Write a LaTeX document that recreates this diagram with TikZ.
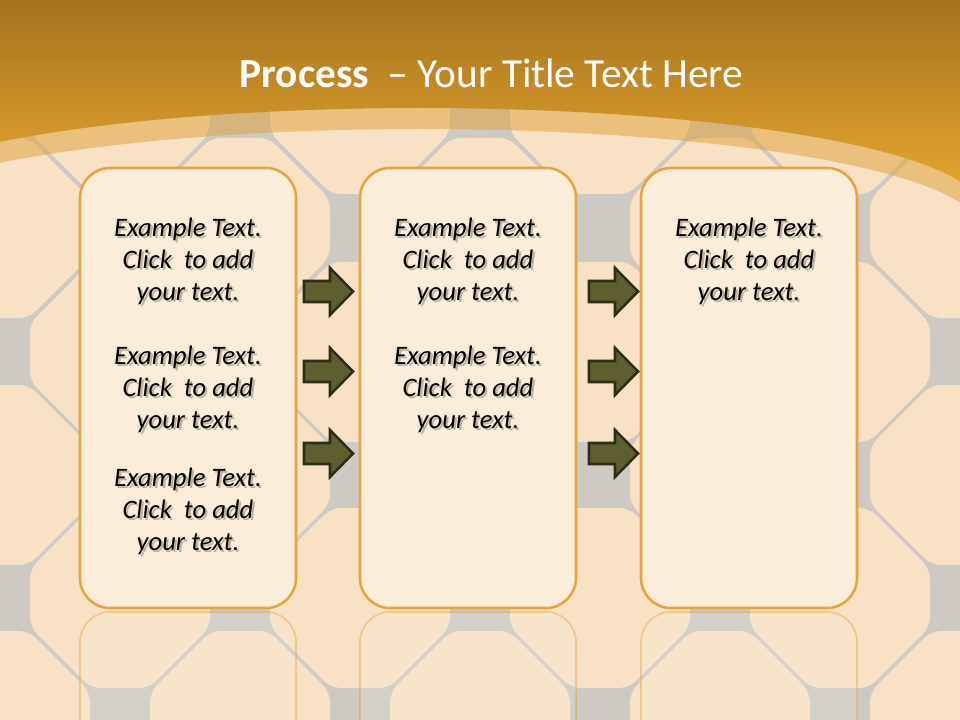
\documentclass[tikz,border=0pt]{standalone}
\usepackage{fontspec}
\setmainfont{Carlito}
\definecolor{gapgray}{HTML}{CECAC3}
\definecolor{octfill}{HTML}{F8E1C4}
\definecolor{orangetop}{HTML}{A5731E}
\definecolor{orangebot}{HTML}{E3A32E}
\definecolor{bandorange}{HTML}{E0A035}
\definecolor{boxfill}{HTML}{FAEDD9}
\definecolor{boxline}{HTML}{E2A63C}
\definecolor{arrowfill}{HTML}{5E5E30}
\definecolor{arrowline}{HTML}{2E2E16}
\definecolor{shadowc}{HTML}{BDB2A2}
\tikzset{
  octpic/.pic={\fill[octfill, rounded corners=7.5pt] (90,-29) -- (90,29) -- (29,90) -- (-29,90) -- (-90,29) -- (-90,-29) -- (-29,-90) -- (29,-90) -- cycle;},
  stagebox/.style={draw=boxline, line width=1.9pt, fill=boxfill, rounded corners=22.5pt, minimum width=162pt, minimum height=330pt, inner sep=0pt},
  reflbox/.style={draw=boxline, draw opacity=0.45, line width=1.2pt, fill=white, fill opacity=0.12, rounded corners=22.5pt},
  txt/.style={align=center, font=\fontsize{20}{24}\selectfont\itshape, inner sep=0pt, text=black},
  blockarrow/.style={draw=arrowline, fill=arrowfill, line width=1.9pt, line join=miter},
}
\newcommand{\myarrow}[2]{%
  \draw[blockarrow] (#1,#2) ++(0,-10.5) -- ++(26,0) -- ++(0,-13) -- ++(23,23.5) -- ++(-23,23.5) -- ++(0,-13) -- ++(-26,0) -- cycle;}
\newcommand{\shline}[1]{\leavevmode\rlap{\kern1.6pt\raisebox{-1.6pt}[0pt][0pt]{\color{shadowc}#1}}#1}
\newcommand{\exampletext}{\shline{Example Text.}\\ \shline{Click\ \ to add}\\ \shline{your text.}}
\begin{document}
\begin{tikzpicture}[x=0.75pt,y=-0.75pt]
\useasboundingbox (0,0) rectangle (960,720);
\clip (0,0) rectangle (960,720);
% background tiling
\fill[gapgray] (0,0) rectangle (960,720);
\foreach \yy in {104,352,598,844} {
  \foreach \xx in {-120,120,360,600,840,1080} { \pic at (\xx,\yy) {octpic}; }
}
\foreach \yy in {-19,228,475,721} {
  \foreach \xx in {0,240,480,720,960} { \pic at (\xx,\yy) {octpic}; }
}
% translucent band
\fill[bandorange, opacity=0.5] plot[domain=0:960, samples=120] (\x, {229 - 100*sqrt(1 - ((\x-420)/560)^2)}) -- (960,0) -- (0,0) -- cycle;
% opaque top
\shade[top color=orangetop, bottom color=orangebot] plot[domain=0:960, samples=120] (\x, {208 - 100*sqrt(1 - ((\x-420)/560)^2)}) -- (960,0) -- (0,0) -- cycle;
% reflections
\begin{scope}
\clip (0,611) rectangle (960,720);
\draw[reflbox] (80,612) rectangle (296,1052);
\draw[reflbox] (360,612) rectangle (576,1052);
\draw[reflbox] (641,612) rectangle (857,1052);
\end{scope}
% boxes
\node[stagebox] (b1) at (188,388) {};
\node[stagebox] (b2) at (468,388) {};
\node[stagebox] (b3) at (749,388) {};
% texts
\node[txt] (t11) at (188,261) {\exampletext};
\node[txt] (t12) at (188,389) {\exampletext};
\node[txt] (t13) at (188,511) {\exampletext};
\node[txt] (t21) at (468,261) {\exampletext};
\node[txt] (t22) at (468,389) {\exampletext};
\node[txt] (t31) at (749,261) {\exampletext};
% arrows
\myarrow{304}{291.5}
\myarrow{304}{371.5}
\myarrow{304}{453.5}
\myarrow{589}{291.5}
\myarrow{589}{371.5}
\myarrow{589}{453.5}
% title
\node[font=\fontsize{31}{37}\selectfont, text=white, anchor=base, inner sep=0pt] (title) at (491.5,88) {\textbf{Process}\ \ – Your Title Text Here};
\end{tikzpicture}
\end{document}
